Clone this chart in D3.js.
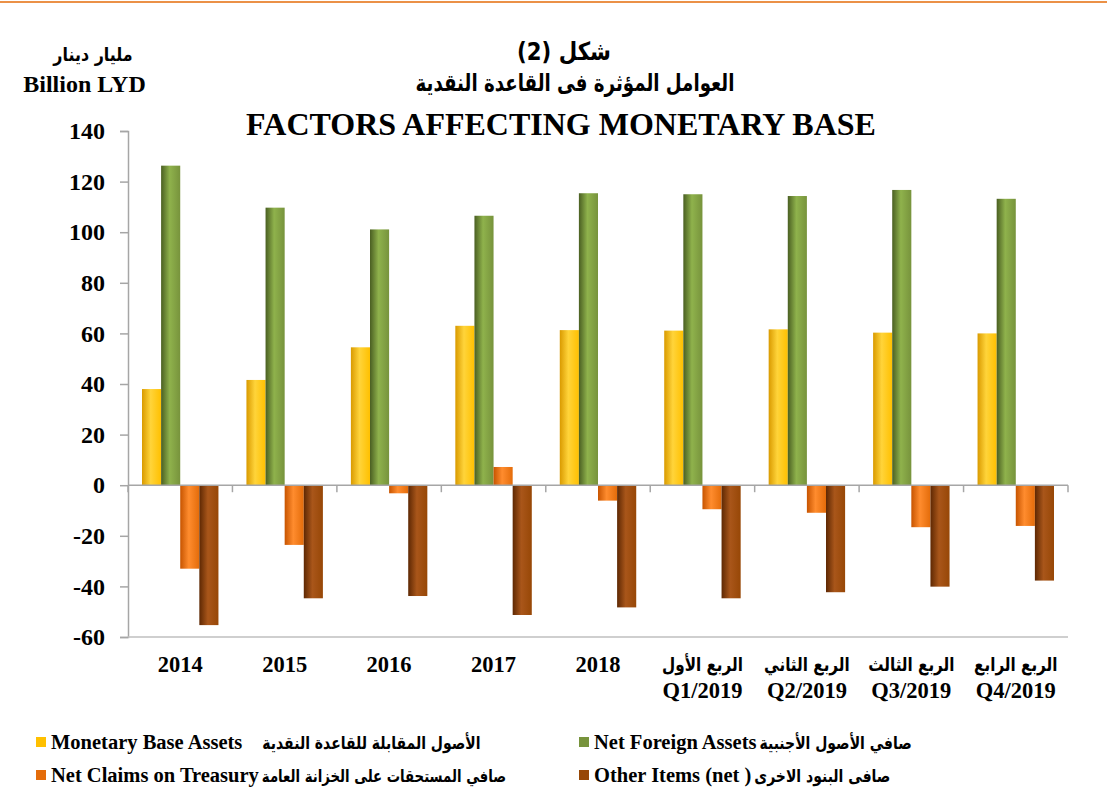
<!DOCTYPE html>
<html>
<head>
<meta charset="utf-8">
<script src="https://cdn.jsdelivr.net/npm/d3@7"></script>
<style>
  html, body { margin: 0; padding: 0; background: #fff; }
  svg { display: block; }
  text { font-family: "Liberation Serif", "DejaVu Sans", serif; font-weight: bold; fill: #000; }
  .ar { font-family: "DejaVu Sans", sans-serif; }
</style>
</head>
<body>
<div id="chart"></div>
<script>
const WIDTH = 1107;
const HEIGHT = 803;

// Data (billion LYD)
const categories = ["2014", "2015", "2016", "2017", "2018", "Q1/2019", "Q2/2019", "Q3/2019", "Q4/2019"];
const arabicCategories = ["", "", "", "", "", "الربع الأول", "الربع الثاني", "الربع الثالث", "الربع الرابع"];
const monetaryBaseAssets = [38, 41.6, 54.5, 63, 61.3, 61.1, 61.6, 60.3, 60];
const netForeignAssets = [126.3, 109.7, 101.1, 106.5, 115.4, 115, 114.3, 116.7, 113.2];
const netClaimsTreasury = [-33, -23.6, -3.2, 7.2, -6.1, -9.5, -10.9, -16.6, -16.1];
const otherItemsNet = [-55.3, -44.7, -43.8, -51.3, -48.3, -44.7, -42.3, -40.1, -37.7];
const yTicks = [-60, -40, -20, 0, 20, 40, 60, 80, 100, 120, 140];

const series = [
  { key: "mba", values: monetaryBaseAssets, en: "Monetary Base Assets", ar: "الأصول المقابلة للقاعدة النقدية",
    colors: ["#d99a00", "#ffd43a", "#ffc000"] },
  { key: "nfa", values: netForeignAssets, en: "Net Foreign Assets", ar: "صافي الأصول الأجنبية",
    colors: ["#4a5f22", "#8fb24c", "#77933c"] },
  { key: "nct", values: netClaimsTreasury, en: "Net Claims on Treasury", ar: "صافي المستحقات على الخزانة العامة",
    colors: ["#c75400", "#ff8c2e", "#e46c0a"] },
  { key: "oth", values: otherItemsNet, en: "Other Items (net )", ar: "صافى البنود الاخرى",
    colors: ["#5e2803", "#a9561a", "#974706"] }
];

// DejaVu's Arabic is wide; draw it taller and squeeze it horizontally
const AR_SQUEEZE = 0.8;

const svg = d3.select("#chart").append("svg")
  .attr("width", WIDTH)
  .attr("height", HEIGHT);

// cylinder-like shading per series
const defs = svg.append("defs");
series.forEach(s => {
  const g = defs.append("linearGradient")
    .attr("id", "grad-" + s.key)
    .attr("x1", "0%").attr("x2", "100%").attr("y1", "0%").attr("y2", "0%");
  g.append("stop").attr("offset", "0%").attr("stop-color", s.colors[0]);
  g.append("stop").attr("offset", "45%").attr("stop-color", s.colors[1]);
  g.append("stop").attr("offset", "100%").attr("stop-color", s.colors[2]);
});

// places a text at (x, y), scaled horizontally by k
function arText(parent, x, y, size, str, k, anchor) {
  const g = parent.append("g").attr("transform", `translate(${x},${y}) scale(${k},1)`);
  return g.append("text").attr("class", "ar")
    .attr("font-size", size)
    .attr("text-anchor", anchor || "middle")
    .text(str);
}

// top rule
svg.append("line")
  .attr("x1", 0).attr("x2", WIDTH)
  .attr("y1", 2).attr("y2", 2)
  .attr("stroke", "#e46c0a").attr("stroke-width", 1.5);

// titles
arText(svg, 564, 60, 25, "شكل (2)", 0.85);
arText(svg, 575, 91, 24, "العوامل المؤثرة  فى القاعدة النقدية", 0.76);
svg.append("text").attr("x", 561).attr("y", 135)
  .attr("text-anchor", "middle").attr("font-size", 32)
  .text("FACTORS AFFECTING MONETARY BASE");

// unit label
arText(svg, 93, 61, 18.5, "مليار دينار", 0.86);
svg.append("text").attr("x", 84.5).attr("y", 92)
  .attr("text-anchor", "middle").attr("font-size", 24)
  .text("Billion LYD");

// scales
const y = d3.scaleLinear().domain([-60, 140]).range([637, 131]);
const x0 = d3.scaleBand().domain(categories).range([128, 1068]);
const x1 = d3.scaleBand().domain(series.map(s => s.key)).range([14, x0.bandwidth() - 14]);

// y axis
const yAxis = svg.append("g")
  .attr("transform", "translate(128,0)")
  .call(d3.axisLeft(y).tickValues(yTicks).tickFormat(d => String(d)).tickSize(8).tickPadding(15));
yAxis.select(".domain").attr("stroke", "#a6a6a6").attr("stroke-width", 1.5);
yAxis.selectAll(".tick line").attr("stroke", "#a6a6a6").attr("stroke-width", 1.5);
yAxis.selectAll(".tick text")
  .style("font-family", "'Liberation Serif', serif")
  .style("font-weight", "bold")
  .style("font-size", "24px")
  .attr("fill", "#000");

// bottom frame line at -60
svg.append("line")
  .attr("x1", 128).attr("x2", x0.range()[1])
  .attr("y1", y(-60)).attr("y2", y(-60))
  .attr("stroke", "#bfbfbf").attr("stroke-width", 1.5);

// bars
const groups = svg.append("g").selectAll("g")
  .data(categories)
  .join("g")
  .attr("transform", d => `translate(${x0(d)},0)`);

groups.selectAll("rect")
  .data((d, i) => series.map(s => ({ key: s.key, value: s.values[i] })))
  .join("rect")
  .attr("x", d => x1(d.key))
  .attr("width", x1.bandwidth())
  .attr("y", d => y(Math.max(0, d.value)))
  .attr("height", d => Math.abs(y(d.value) - y(0)))
  .attr("fill", d => `url(#grad-${d.key})`);

// category axis on zero line, ticks at band edges
const zeroY = y(0);
svg.append("line")
  .attr("x1", 128).attr("x2", x0.range()[1])
  .attr("y1", zeroY).attr("y2", zeroY)
  .attr("stroke", "#a6a6a6").attr("stroke-width", 1.5);
const edges = categories.map(c => x0(c)).concat([x0.range()[1]]);
svg.append("g").selectAll("line")
  .data(edges)
  .join("line")
  .attr("x1", d => d).attr("x2", d => d)
  .attr("y1", zeroY).attr("y2", zeroY + 7)
  .attr("stroke", "#a6a6a6").attr("stroke-width", 1.5);

// category labels
categories.forEach((d, i) => {
  const cx = x0(d) + x0.bandwidth() / 2;
  if (arabicCategories[i]) {
    arText(svg, cx, 671, 19, arabicCategories[i], AR_SQUEEZE);
    svg.append("text").attr("x", cx).attr("y", 698)
      .attr("text-anchor", "middle").attr("font-size", 22.5)
      .text(d);
  } else {
    svg.append("text").attr("x", cx).attr("y", 672)
      .attr("text-anchor", "middle").attr("font-size", 22.5)
      .text(d);
  }
});

// legend
const legendPos = [[36, 742], [579, 742], [36, 775], [579, 775]];
series.forEach((s, i) => {
  const [lx, ly] = legendPos[i];
  const g = svg.append("g").attr("transform", `translate(${lx},${ly})`);
  g.append("rect").attr("x", 0).attr("y", -5).attr("width", 10).attr("height", 10)
    .attr("fill", s.colors[2]);
  const en = g.append("text").attr("x", 15).attr("y", 7)
    .attr("font-size", 20.5)
    .text(s.en);
  const w = en.node().getComputedTextLength();
  const gap = i === 0 ? 20 : 3;
  arText(g, 15 + w + gap, 7, i === 2 ? 16.6 : 17.5, s.ar, AR_SQUEEZE, "end")
    .attr("direction", "rtl");
});
</script>
</body>
</html>
